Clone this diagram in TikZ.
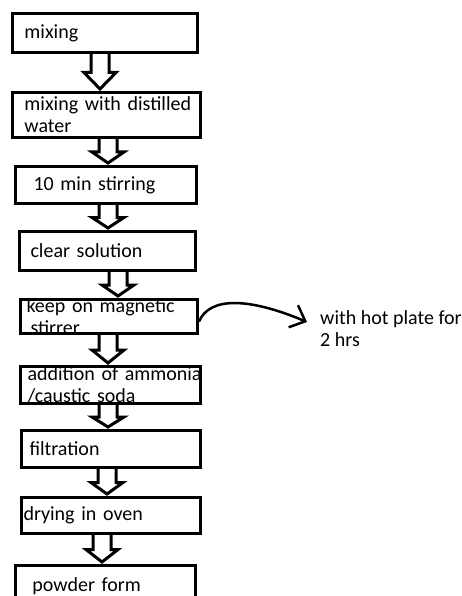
\documentclass[tikz,border=0pt]{standalone}
\usepackage{fontspec}
\setmainfont{Carlito}
\usetikzlibrary{positioning, calc, arrows.meta}

\tikzset{
  stepbox/.style={draw, line width=3pt, anchor=north west, align=left,
    inner xsep=0pt, inner ysep=0pt, font=\fontsize{20pt}{22pt}\selectfont},
  shiftin/.style={execute at begin node={\raggedright\leftskip=#1\rightskip=0pt plus 1fil minus 15pt}},
  blockarrow/.style={draw, line width=3pt, line join=miter},
  sidearrow/.style={line width=2.5pt,
    -{Straight Barb[length=13pt, width=24pt, line width=2.5pt]}},
  sidenote/.style={align=left, inner sep=2pt, font=\fontsize{20pt}{22pt}\selectfont}
}

% hollow down arrow from one step to the next, #3 = x of its axis
\newcommand{\flowarrow}[3]{%
  \draw[blockarrow] let \p1=(#1.south), \p2=(#2.north), \p3=($(\p1)!.5!(\p2)$) in
    ({(#3-9)*1pt},\y1) -- ({(#3-9)*1pt},\y3) -- ({(#3-16)*1pt},\y3)
    -- ({#3*1pt},{\y2+2pt}) -- ({(#3+16)*1pt},\y3) -- ({(#3+9)*1pt},\y3)
    -- ({(#3+9)*1pt},\y1);}

\begin{document}
\begin{tikzpicture}[x=1pt, y=-1pt]
  \useasboundingbox (0,0) rectangle (462,596);
  \clip (0,0) rectangle (462,596);

  % steps
  \node[stepbox, shiftin=12pt, text width=185pt, minimum height=39pt] (mix) at (11,12) {mixing};
  \node[stepbox, shiftin=12pt, text width=188pt, minimum height=45pt] (water) at (11,91) {mixing with distilled\\water};
  \node[stepbox, shiftin=18pt, text width=181pt, minimum height=37pt] (stir) at (14,165) {10 min stirring};
  \node[stepbox, shiftin=11pt, text width=176pt, minimum height=39pt] (clear) at (18,230) {clear solution};
  \node[stepbox, shiftin=6pt, text width=177pt, minimum height=34pt, inner ysep=-2pt] (magnet) at (19,298) {keep on magnetic\\\hspace*{4pt}stirrer};
  \node[stepbox, shiftin=7pt, text width=180pt, minimum height=37pt, inner ysep=-2pt] (soda) at (19,365) {addition of ammonia\\/caustic soda};
  \node[stepbox, shiftin=8pt, text width=179pt, minimum height=37pt] (filter) at (20,429) {filtration};
  \node[stepbox, shiftin=2pt, text width=179pt, minimum height=36pt] (oven) at (20,496) {drying in oven};
  \node[stepbox, shiftin=17pt, text width=180pt, minimum height=42pt] (powder) at (14,564) {powder form};

  % arrows between steps
  \flowarrow{mix}{water}{100}
  \flowarrow{water}{stir}{108}
  \flowarrow{stir}{clear}{108}
  \flowarrow{clear}{magnet}{118}
  \flowarrow{magnet}{soda}{108}
  \flowarrow{soda}{filter}{108}
  \flowarrow{filter}{oven}{107}
  \flowarrow{oven}{powder}{102}

  % side note
  \coordinate (plate) at (307,322);
  \draw[sidearrow] ([yshift=-5pt]magnet.east) .. controls (210,296) and (250,298) .. (plate);
  \node[sidenote, anchor=west] (hotplate) at (318,329) {with hot plate for\\2 hrs};
\end{tikzpicture}
\end{document}
